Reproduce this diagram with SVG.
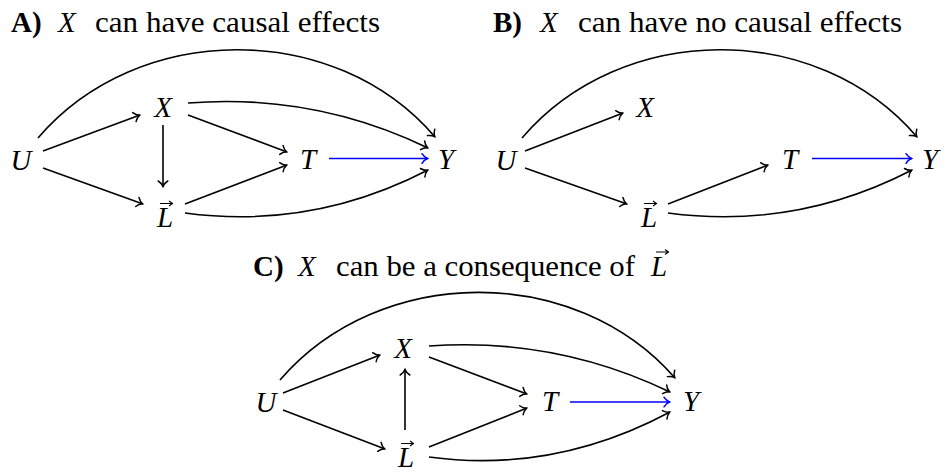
<svg xmlns="http://www.w3.org/2000/svg" width="949" height="476" viewBox="0 0 949 476">
<style>
.t{font-family:"Liberation Serif",serif;font-size:29px;fill:#000}
.b{font-weight:bold}
.m{font-style:italic}
.n{font-family:"Liberation Serif",serif;font-size:29px;font-style:italic;fill:#000;text-anchor:middle}
.e{fill:none;stroke:#000;stroke-width:1.6;marker-end:url(#ah)}
.bl{fill:none;stroke:#0000ff;stroke-width:1.6;marker-end:url(#ahb)}
.v{fill:none;stroke:#000;stroke-width:1.1}
</style>
<defs>
<marker id="ah" markerUnits="userSpaceOnUse" markerWidth="14" markerHeight="14" viewBox="-8 -7 10 14" refX="0.5" refY="0" orient="auto">
<path d="M-5.5 -4.8 C-3.8 -2 -1.4 -0.6 0 0 C-1.4 0.6 -3.8 2 -5.5 4.8" fill="none" stroke="#000" stroke-width="1.5" stroke-linecap="round"/>
</marker>
<marker id="ahb" markerUnits="userSpaceOnUse" markerWidth="14" markerHeight="14" viewBox="-8 -7 10 14" refX="0.5" refY="0" orient="auto">
<path d="M-5.5 -4.8 C-3.8 -2 -1.4 -0.6 0 0 C-1.4 0.6 -3.8 2 -5.5 4.8" fill="none" stroke="#0000ff" stroke-width="1.5" stroke-linecap="round"/>
</marker>
</defs>
<rect width="949" height="476" fill="#fff"/>

<g id="titles">
<text class="t b" x="11" y="32">A)</text>
<text class="t m" x="58" y="32">X</text>
<text class="t" x="95" y="32" textLength="285" lengthAdjust="spacingAndGlyphs">can have causal effects</text>
<text class="t b" x="493" y="32">B)</text>
<text class="t m" x="540" y="32">X</text>
<text class="t" x="578" y="32" textLength="324" lengthAdjust="spacingAndGlyphs">can have no causal effects</text>
<text class="t b" x="253" y="276">C)</text>
<text class="t m" x="298" y="276">X</text>
<text class="t" x="336" y="276" textLength="299" lengthAdjust="spacingAndGlyphs">can be a consequence of</text>
<text class="t m" x="651" y="276">L</text>
<path class="v" d="M656 252 H668 M665 249.5 L668.5 252 L665 254.5"/>
</g>

<g id="connectors">
<!-- Panel A -->
<path class="e" d="M43 151 L140 115"/>
<path class="e" d="M43 168 L143 204"/>
<path class="e" d="M163 125 L163 187"/>
<path class="e" d="M188 115 L287 152"/>
<path class="e" d="M185 204 L287 165"/>
<path class="bl" d="M329 158.5 L428 158.5"/>
<path class="e" d="M188 103 Q314 93 428 148"/>
<path class="e" d="M185 213 Q312 230 428 170"/>
<path class="e" d="M38 138 C138 21 335 20 435 137"/>
<!-- Panel B -->
<path class="e" d="M525 151 L623 113"/>
<path class="e" d="M525 168 L627 204"/>
<path class="e" d="M668 204 L768 165"/>
<path class="bl" d="M812 158.5 L912 158.5"/>
<path class="e" d="M668 213 Q796 230 912 170"/>
<path class="e" d="M522 138 C622 21 817 20 917 137"/>
<!-- Panel C -->
<path class="e" d="M283 393 L380 355"/>
<path class="e" d="M283 410 L385 449"/>
<path class="e" d="M405 430 L405 369"/>
<path class="e" d="M429 357 L527 394"/>
<path class="e" d="M429 447 L527 408"/>
<path class="bl" d="M570 402 L670 402"/>
<path class="e" d="M429 346 Q556 337 670 392"/>
<path class="e" d="M429 457 Q554 474 670 412"/>
<path class="e" d="M280 380 C380 264 575 263 675 378"/>
</g>

<g id="A_U"><text class="n" x="21" y="170">U</text></g>
<g id="A_X"><text class="n" x="163" y="117">X</text></g>
<g id="A_T"><text class="n" x="308" y="169">T</text></g>
<g id="A_Y"><text class="n" x="446" y="169">Y</text></g>
<g id="A_L"><text class="n" x="165" y="227">L</text><path class="v" d="M160 203.5 H172 M169 201 L172.5 203.5 L169 206"/></g>

<g id="B_U"><text class="n" x="506" y="170">U</text></g>
<g id="B_X"><text class="n" x="645" y="117">X</text></g>
<g id="B_T"><text class="n" x="790" y="169">T</text></g>
<g id="B_Y"><text class="n" x="930" y="169">Y</text></g>
<g id="B_L"><text class="n" x="649" y="227">L</text><path class="v" d="M644 203.5 H656 M653 201 L656.5 203.5 L653 206"/></g>

<g id="C_U"><text class="n" x="266" y="412">U</text></g>
<g id="C_X"><text class="n" x="403" y="358">X</text></g>
<g id="C_T"><text class="n" x="550" y="411">T</text></g>
<g id="C_Y"><text class="n" x="691" y="411">Y</text></g>
<g id="C_L"><text class="n" x="406" y="467">L</text><path class="v" d="M401 443.5 H413 M410 441 L413.5 443.5 L410 446"/></g>
</svg>
